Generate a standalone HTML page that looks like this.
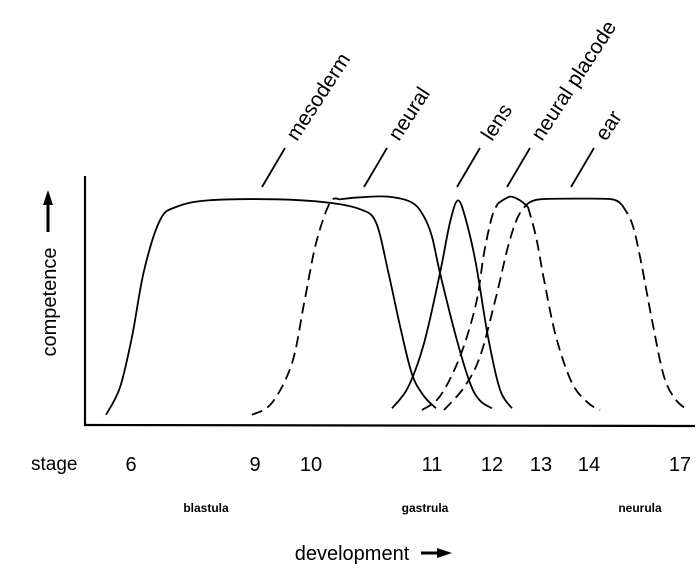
<!DOCTYPE html>
<html><head><meta charset="utf-8">
<style>
html,body{margin:0;padding:0;background:#fff;}
svg{display:block;font-family:"Liberation Sans",Arial,sans-serif;}
</style></head>
<body>
<svg id="chart" width="700" height="573" viewBox="0 0 700 573" xmlns="http://www.w3.org/2000/svg">
  <g stroke="#000" stroke-width="2.2" fill="none">
    <line x1="85" y1="176" x2="85" y2="426"/>
    <line x1="84" y1="425" x2="695" y2="426"/>
  </g>
  <g id="curves" fill="none" stroke="#000" stroke-width="1.8"></g>
  <g id="leaders" stroke="#000" stroke-width="1.8"></g>
  <g id="labels" font-size="21" fill="#000"></g>
  <g id="stages" font-size="20" fill="#000"></g>
  <text x="31" y="470" font-size="19">stage</text>
  <text x="206" y="512" font-size="12" font-weight="bold" text-anchor="middle">blastula</text>
  <text x="425" y="512" font-size="12" font-weight="bold" text-anchor="middle">gastrula</text>
  <text x="640" y="512" font-size="12" font-weight="bold" text-anchor="middle">neurula</text>
  <text x="352" y="560" font-size="20" text-anchor="middle">development</text>
  <g>
    <line x1="421" y1="553" x2="442" y2="553" stroke="#000" stroke-width="3"/>
    <polygon points="437,548 452,553 437,558" fill="#000"/>
  </g>
  <text transform="translate(56,302) rotate(-90)" font-size="20" text-anchor="middle">competence</text>
  <g>
    <line x1="48" y1="232" x2="48" y2="200" stroke="#000" stroke-width="3"/>
    <polygon points="43,205 48,190 53,205" fill="#000"/>
  </g>
</svg>
<script>
// x domain: development time units (0..610), y: competence 0..100
const mesodermT = [21,35,47,59,75,91,123,191,243,275,291,303,315,327,339,351];
const mesodermC = [0.5,13,36,66,89,95,98,98.5,97,94,88,66,41,19,9,3.5];
const neuralRiseT = [167,187,207,219,231,245,255];
const neuralRiseC = [0.5,6,24,51,78.5,97,98.5];
const neuralT = [255,275,303,327,339,347,355,371,385,395,407];
const neuralC = [98.5,99.4,99.7,97,90.6,81.5,65,36,15,7,3.5];
const lensT = [307,323,339,355,365,373,381,391,403,415,427];
const lensC = [3.5,13,33,65,88,98,89,69,36,12,3.5];
const placodeRiseT = [337,355,375,391,399,407,413];
const placodeRiseC = [2.7,9,27,51,74,90.6,96.7];
const placodeTopT = [413,425,435,443];
const placodeTopC = [96.7,99.7,98,95];
const placodeFallT = [443,451,459,471,487,503,515];
const placodeFallC = [95,81.5,62,36,15,6,2.7];
const earRiseT = [359,379,395,411,423,433,443];
const earRiseC = [2.7,13,27,54,77,90.6,96.7];
const earTopT = [443,455,495,527,537];
const earTopC = [96.7,98.5,98.8,98.5,96];
const earFallT = [537,547,555,567,579,591,603];
const earFallC = [96,87.6,72.4,43.6,17.9,7.3,2.7];
const stageLabels = ["6","9","10","11","12","13","14","17"];
const stageT = [46,170,226,347,407,456,504,595];
const curveNames = ["mesoderm","neural","lens","neural placode","ear"];
const labelT = [205,307,400,450,514];

function xs(t){return 85 + t;}
function ys(c){return 416 - c*2.2;}

const NS="http://www.w3.org/2000/svg";
function smoothPath(T,C){
  const p=T.map((t,i)=>[xs(t),ys(C[i])]);
  let d="M"+p[0][0]+","+p[0][1];
  for(let i=0;i<p.length-1;i++){
    const p0=p[i-1]||p[i],p1=p[i],p2=p[i+1],p3=p[i+2]||p2;
    const c1=[p1[0]+(p2[0]-p0[0])/6,p1[1]+(p2[1]-p0[1])/6];
    const c2=[p2[0]-(p3[0]-p1[0])/6,p2[1]-(p3[1]-p1[1])/6];
    d+=` C${c1[0]},${c1[1]} ${c2[0]},${c2[1]} ${p2[0]},${p2[1]}`;
  }
  return d;
}
const cg=document.getElementById("curves");
function addCurve(T,C,dashed,name){
  const el=document.createElementNS(NS,"path");
  el.setAttribute("d",smoothPath(T,C));
  if(dashed) el.setAttribute("stroke-dasharray","11,6");
  
  
  cg.appendChild(el);
}
addCurve(mesodermT,mesodermC,false,"mesoderm-curve");
addCurve(neuralRiseT,neuralRiseC,true,"neural-curve-rise");
addCurve(neuralT,neuralC,false,"neural-curve");
addCurve(lensT,lensC,false,"lens-curve");
addCurve(placodeRiseT,placodeRiseC,true,"neural-placode-curve-rise");
addCurve(placodeTopT,placodeTopC,false,"neural-placode-curve-top");
addCurve(placodeFallT,placodeFallC,true,"neural-placode-curve-fall");
addCurve(earRiseT,earRiseC,true,"ear-curve-rise");
addCurve(earTopT,earTopC,false,"ear-curve-top");
addCurve(earFallT,earFallC,true,"ear-curve-fall");

const lg=document.getElementById("leaders"),tg=document.getElementById("labels");
curveNames.forEach((n,i)=>{
  const x=xs(labelT[i])-28;
  const ln=document.createElementNS(NS,"line");
  ln.setAttribute("x1",x);ln.setAttribute("y1",187);
  ln.setAttribute("x2",x+23);ln.setAttribute("y2",148);
  
  
  lg.appendChild(ln);
  const tx=document.createElementNS(NS,"text");
  tx.setAttribute("transform",`translate(${x+35},${142}) rotate(-57)`);
  tx.textContent=n;
  
  
  tg.appendChild(tx);
});
const sg=document.getElementById("stages");
stageLabels.forEach((s,i)=>{
  const tx=document.createElementNS(NS,"text");
  tx.setAttribute("x",xs(stageT[i]));tx.setAttribute("y",471);
  tx.setAttribute("text-anchor","middle");
  tx.textContent=s;
  
  
  sg.appendChild(tx);
});
</script>
</body></html>
